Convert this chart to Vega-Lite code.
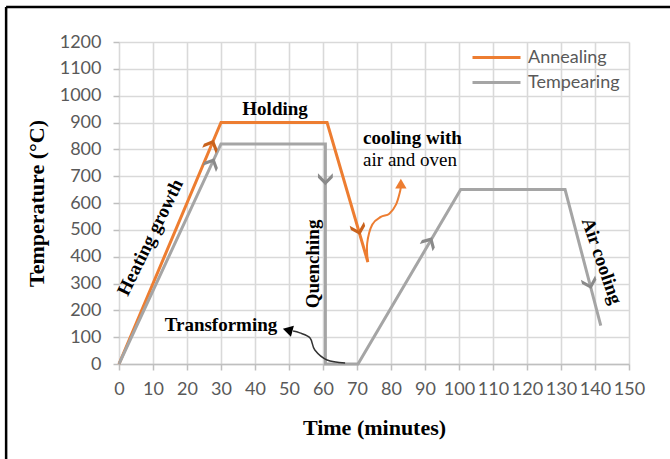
{
  "$schema": "https://vega.github.io/schema/vega-lite/v6.json",
  "width": 510,
  "height": 322,
  "autosize": {"type": "none"},
  "padding": {"left": 119, "top": 42, "right": 41, "bottom": 95},
  "background": "white",
  "config": {"view": {"stroke": null}, "font": "Lato"},
  "datasets": {
    "profiles": [
      {"series": "Annealing", "step": 1, "t": 0, "temp": 0},
      {"series": "Annealing", "step": 2, "t": 30, "temp": 900},
      {"series": "Annealing", "step": 3, "t": 61.2, "temp": 900},
      {"series": "Annealing", "step": 4, "t": 73.2, "temp": 380},
      {"series": "Tempearing", "step": 1, "t": 0, "temp": 0},
      {"series": "Tempearing", "step": 2, "t": 30, "temp": 820},
      {"series": "Tempearing", "step": 3, "t": 60.7, "temp": 820},
      {"series": "Tempearing", "step": 4, "t": 60.7, "temp": 0},
      {"series": "Tempearing", "step": 5, "t": 70.3, "temp": 0},
      {"series": "Tempearing", "step": 6, "t": 100.5, "temp": 650},
      {"series": "Tempearing", "step": 7, "t": 131.2, "temp": 650},
      {"series": "Tempearing", "step": 8, "t": 141.7, "temp": 143}
    ],
    "chevrons": [
      {"leg": "anneal-heat", "t": 27, "temp": 810},
      {"leg": "anneal-cool", "t": 70.3, "temp": 507},
      {"leg": "temper-heat", "t": 27.1, "temp": 742},
      {"leg": "quench", "t": 60.7, "temp": 694},
      {"leg": "reheat", "t": 91, "temp": 448},
      {"leg": "air-cool", "t": 138.3, "temp": 306}
    ],
    "curves": [
      {"curve": "oven", "step": 1, "t": 73.2, "temp": 380},
      {"curve": "oven", "step": 2, "t": 73.0, "temp": 450},
      {"curve": "oven", "step": 3, "t": 74.5, "temp": 520},
      {"curve": "oven", "step": 4, "t": 77.0, "temp": 548},
      {"curve": "oven", "step": 5, "t": 79.5, "temp": 560},
      {"curve": "oven", "step": 6, "t": 81.5, "temp": 595},
      {"curve": "oven", "step": 7, "t": 82.7, "temp": 645},
      {"curve": "oven", "step": 8, "t": 82.9, "temp": 664},
      {"curve": "transform", "step": 1, "t": 66.5, "temp": 4},
      {"curve": "transform", "step": 2, "t": 61.2, "temp": 15},
      {"curve": "transform", "step": 3, "t": 57.6, "temp": 52},
      {"curve": "transform", "step": 4, "t": 56.2, "temp": 97},
      {"curve": "transform", "step": 5, "t": 53.2, "temp": 116},
      {"curve": "transform", "step": 6, "t": 51.2, "temp": 123}
    ],
    "heads": [
      {"curve": "oven", "t": 82.9, "temp": 672},
      {"curve": "transform", "t": 49.6, "temp": 127}
    ],
    "notes": [
      {"label": "Holding", "t": 45.9, "temp": 951},
      {"label": "cooling with", "t": 71.8, "temp": 843},
      {"label": "air and oven", "t": 71.8, "temp": 761},
      {"label": "Transforming", "t": 30, "temp": 145},
      {"label": "Heating growth", "t": 9.2, "temp": 472},
      {"label": "Quenching", "t": 57.1, "temp": 373},
      {"label": "Air cooling", "t": 142.0, "temp": 384}
    ],
    "frame": [
      {"t": -33.2, "t2": -33.2, "temp": -420, "temp2": 1330},
      {"t": -33.2, "t2": 165, "temp": 1330, "temp2": 1330}
    ]
  },
  "encoding": {
    "x": {
      "field": "t",
      "type": "quantitative",
      "scale": {"domain": [0, 150], "nice": false, "zero": false},
      "axis": {
        "title": "Time (minutes)",
        "titleFont": "Liberation Serif",
        "titleFontWeight": "bold",
        "titleFontSize": 22,
        "titleColor": "#000000",
        "titlePadding": 19,
        "values": [0, 10, 20, 30, 40, 50, 60, 70, 80, 90, 100, 110, 120, 130, 140, 150],
        "format": "d",
        "labelFont": "Lato",
        "labelFontSize": 18,
        "labelColor": "#595959",
        "labelPadding": 10,
        "labelOverlap": false,
        "labelFlush": false,
        "domainColor": "#bfbfbf",
        "domainWidth": 1.5,
        "tickColor": "#bfbfbf",
        "tickWidth": 1.5,
        "tickSize": 6,
        "gridColor": "#d9d9d9",
        "gridWidth": 1.6
      }
    },
    "y": {
      "field": "temp",
      "type": "quantitative",
      "scale": {"domain": [0, 1200], "nice": false},
      "axis": {
        "title": "Temperature (°C)",
        "titleFont": "Liberation Serif",
        "titleFontWeight": "bold",
        "titleFontSize": 22,
        "titleColor": "#000000",
        "titlePadding": 11,
        "values": [0, 100, 200, 300, 400, 500, 600, 700, 800, 900, 1000, 1100, 1200],
        "format": "d",
        "labelFont": "Lato",
        "labelFontSize": 18,
        "labelColor": "#595959",
        "labelPadding": 12,
        "domain": false,
        "tickColor": "#bfbfbf",
        "tickWidth": 1.5,
        "tickSize": 6,
        "gridColor": "#d9d9d9",
        "gridWidth": 1.6
      }
    }
  },
  "layer": [
    {
      "data": {"name": "frame"},
      "mark": {"type": "rule", "color": "#000000", "strokeWidth": 2.5, "clip": false},
      "encoding": {"x2": {"field": "t2"}, "y2": {"field": "temp2"}}
    },
    {
      "data": {"name": "profiles"},
      "mark": {"type": "line", "strokeWidth": 3, "strokeJoin": "miter"},
      "encoding": {
        "order": {"field": "step", "type": "quantitative"},
        "color": {
          "field": "series",
          "type": "nominal",
          "scale": {"domain": ["Annealing", "Tempearing"], "range": ["#ED7D31", "#A5A5A5"]},
          "legend": {
            "title": null,
            "orient": "none",
            "legendX": 364,
            "legendY": 2,
            "symbolType": "M-2,0L2,0",
            "symbolSize": 576,
            "symbolStrokeWidth": 3,
            "labelFont": "Lato",
            "labelFontSize": 18,
            "labelColor": "#595959",
            "labelOffset": 18,
            "rowPadding": 2
          }
        }
      }
    },
    {
      "data": {"name": "curves"},
      "transform": [{"filter": "datum.curve === 'oven'"}],
      "mark": {"type": "line", "interpolate": "cardinal", "color": "#ED7D31", "strokeWidth": 2},
      "encoding": {"order": {"field": "step", "type": "quantitative"}}
    },
    {
      "data": {"name": "curves"},
      "transform": [{"filter": "datum.curve === 'transform'"}],
      "mark": {"type": "line", "interpolate": "cardinal", "color": "#333333", "strokeWidth": 1.5},
      "encoding": {"order": {"field": "step", "type": "quantitative"}}
    },
    {
      "data": {"name": "heads"},
      "transform": [{"filter": "datum.curve === 'oven'"}],
      "mark": {"type": "point", "shape": "triangle-up", "filled": true, "size": 130, "color": "#ED7D31", "opacity": 1}
    },
    {
      "data": {"name": "heads"},
      "transform": [{"filter": "datum.curve === 'transform'"}],
      "mark": {"type": "point", "shape": "triangle-left", "filled": true, "size": 130, "angle": 15, "color": "#000000", "opacity": 1}
    },
    {
      "data": {"name": "chevrons"},
      "transform": [{"filter": "datum.leg === 'anneal-heat'"}],
      "mark": {"type": "point", "shape": "M-1,-0.6L0,0.4L1,-0.6L1,0L0,1L-1,0Z", "filled": true, "size": 220, "angle": 203, "color": "#c9621c", "opacity": 1}
    },
    {
      "data": {"name": "chevrons"},
      "transform": [{"filter": "datum.leg === 'anneal-cool'"}],
      "mark": {"type": "point", "shape": "M-1,-0.6L0,0.4L1,-0.6L1,0L0,1L-1,0Z", "filled": true, "size": 220, "angle": 344, "color": "#c9621c", "opacity": 1}
    },
    {
      "data": {"name": "chevrons"},
      "transform": [{"filter": "datum.leg === 'temper-heat'"}],
      "mark": {"type": "point", "shape": "M-1,-0.6L0,0.4L1,-0.6L1,0L0,1L-1,0Z", "filled": true, "size": 220, "angle": 205, "color": "#8a8a8a", "opacity": 1}
    },
    {
      "data": {"name": "chevrons"},
      "transform": [{"filter": "datum.leg === 'quench'"}],
      "mark": {"type": "point", "shape": "M-1,-0.6L0,0.4L1,-0.6L1,0L0,1L-1,0Z", "filled": true, "size": 220, "angle": 0, "color": "#8a8a8a", "opacity": 1}
    },
    {
      "data": {"name": "chevrons"},
      "transform": [{"filter": "datum.leg === 'reheat'"}],
      "mark": {"type": "point", "shape": "M-1,-0.6L0,0.4L1,-0.6L1,0L0,1L-1,0Z", "filled": true, "size": 220, "angle": 210, "color": "#8a8a8a", "opacity": 1}
    },
    {
      "data": {"name": "chevrons"},
      "transform": [{"filter": "datum.leg === 'air-cool'"}],
      "mark": {"type": "point", "shape": "M-1,-0.6L0,0.4L1,-0.6L1,0L0,1L-1,0Z", "filled": true, "size": 220, "angle": 344, "color": "#8a8a8a", "opacity": 1}
    },
    {
      "data": {"name": "notes"},
      "transform": [{"filter": "datum.label === 'Holding' || datum.label === 'Transforming'"}],
      "mark": {"type": "text", "font": "Liberation Serif", "fontSize": 19, "fontWeight": "bold", "color": "#000000", "align": "center", "baseline": "middle"},
      "encoding": {"text": {"field": "label"}}
    },
    {
      "data": {"name": "notes"},
      "transform": [{"filter": "datum.label === 'cooling with'"}],
      "mark": {"type": "text", "font": "Liberation Serif", "fontSize": 19, "fontWeight": "bold", "color": "#000000", "align": "left", "baseline": "middle"},
      "encoding": {"text": {"field": "label"}}
    },
    {
      "data": {"name": "notes"},
      "transform": [{"filter": "datum.label === 'air and oven'"}],
      "mark": {"type": "text", "font": "Liberation Serif", "fontSize": 19, "color": "#000000", "align": "left", "baseline": "middle"},
      "encoding": {"text": {"field": "label"}}
    },
    {
      "data": {"name": "notes"},
      "transform": [{"filter": "datum.label === 'Heating growth'"}],
      "mark": {"type": "text", "font": "Liberation Serif", "fontSize": 19, "fontWeight": "bold", "color": "#000000", "align": "center", "baseline": "middle", "angle": 296},
      "encoding": {"text": {"field": "label"}}
    },
    {
      "data": {"name": "notes"},
      "transform": [{"filter": "datum.label === 'Quenching'"}],
      "mark": {"type": "text", "font": "Liberation Serif", "fontSize": 19, "fontWeight": "bold", "color": "#000000", "align": "center", "baseline": "middle", "angle": 270},
      "encoding": {"text": {"field": "label"}}
    },
    {
      "data": {"name": "notes"},
      "transform": [{"filter": "datum.label === 'Air cooling'"}],
      "mark": {"type": "text", "font": "Liberation Serif", "fontSize": 19, "fontWeight": "bold", "color": "#000000", "align": "center", "baseline": "middle", "angle": 71},
      "encoding": {"text": {"field": "label"}}
    }
  ]
}
